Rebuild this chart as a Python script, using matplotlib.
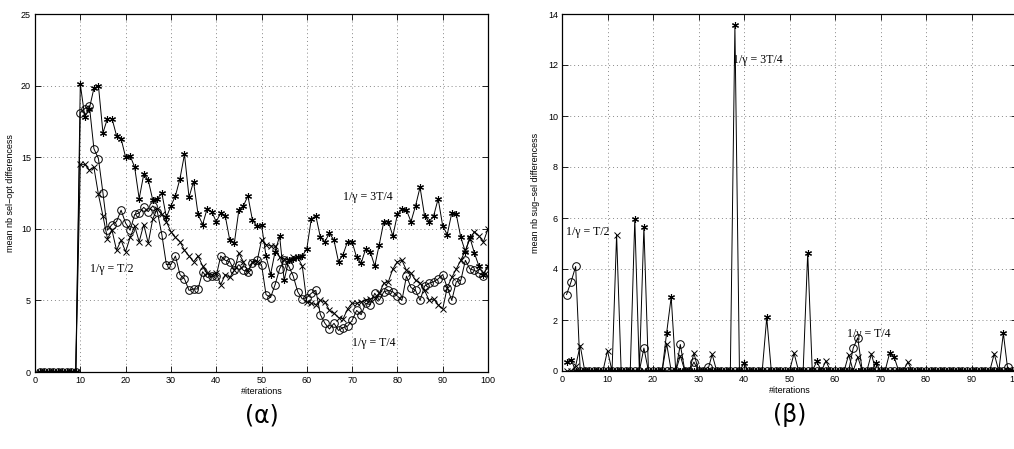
import numpy as np
import matplotlib
matplotlib.use('Agg')
import matplotlib.pyplot as plt

## Left panel (alpha): mean nb sel-opt differences, iterations 1..100
iters = np.arange(1, 101)

star_a = [0]*9 + [20.1, 17.8, 18.4, 19.8, 20.0, 16.7, 17.7, 17.7, 16.5, 16.3,
                  15.0, 15.1, 14.3, 12.1, 13.8, 13.4, 12.0, 12.1, 12.5, 10.8,
                  11.6, 12.3, 13.5, 15.2, 12.2, 13.3, 11.0, 10.3, 11.4, 11.2,
                  10.5, 11.1, 10.9, 9.2, 9.0, 11.3, 11.6, 12.3, 10.6, 10.2,
                  10.3, 8.1, 6.8, 8.4, 9.5, 6.4, 7.8, 7.9, 8.0, 8.1,
                  8.6, 10.7, 10.9, 9.4, 9.1, 9.7, 9.2, 7.7, 8.2, 9.1,
                  9.1, 8.0, 7.6, 8.6, 8.4, 7.4, 8.9, 10.5, 10.5, 9.5,
                  11.0, 11.4, 11.3, 10.5, 11.6, 12.9, 10.9, 10.5, 10.9, 12.1,
                  10.2, 9.6, 11.1, 11.0, 9.4, 8.4, 9.4, 8.3, 7.4, 6.8, 7.4]

circ_a = [0]*9 + [18.1, 18.4, 18.6, 15.6, 14.9, 12.5, 9.9, 10.3, 10.5, 11.3,
                  10.4, 9.9, 11.0, 11.1, 11.5, 11.2, 11.6, 11.2, 9.6, 7.5,
                  7.5, 8.1, 6.8, 6.5, 5.7, 5.8, 5.8, 7.0, 6.6, 6.7,
                  6.7, 8.1, 7.8, 7.7, 7.1, 7.5, 7.1, 7.0, 7.6, 7.8,
                  7.5, 5.4, 5.2, 6.1, 7.2, 7.8, 7.4, 6.7, 5.6, 5.1,
                  5.2, 5.5, 5.7, 4.0, 3.4, 3.0, 3.4, 2.9, 3.1, 3.2,
                  3.6, 4.3, 4.0, 4.8, 4.7, 5.5, 5.0, 5.6, 5.7, 5.6,
                  5.3, 5.0, 6.7, 5.9, 5.7, 5.0, 6.0, 6.2, 6.3, 6.5,
                  6.8, 5.9, 5.0, 6.3, 6.4, 7.8, 7.2, 7.1, 6.9, 6.7, 7.0]

cross_a = [0]*9 + [14.5, 14.5, 14.1, 14.3, 12.4, 10.9, 9.3, 9.9, 8.5, 9.2,
                   8.4, 9.4, 10.2, 9.1, 10.3, 9.0, 10.7, 11.4, 11.0, 10.5,
                   9.8, 9.4, 9.1, 8.5, 8.1, 7.7, 8.1, 7.4, 6.9, 6.8,
                   6.9, 6.1, 6.8, 6.6, 7.1, 8.3, 7.7, 7.0, 7.7, 7.7,
                   9.2, 8.9, 8.8, 8.8, 8.0, 7.9, 7.8, 8.0, 8.0, 7.4,
                   4.9, 4.8, 4.7, 5.0, 4.9, 4.3, 4.1, 3.8, 3.7, 4.4,
                   4.8, 4.8, 4.9, 5.0, 5.1, 5.2, 5.5, 6.2, 6.3, 7.2,
                   7.7, 7.8, 7.1, 6.9, 6.4, 6.2, 5.7, 5.0, 5.1, 4.7,
                   4.4, 5.9, 6.6, 7.2, 7.8, 8.5, 9.3, 9.8, 9.5, 9.1, 10.0]

## Right panel (beta): mean nb sug-sel differences, mostly zero with spikes
star_b_at = [1, 2, 16, 18, 23, 24, 38, 40, 45, 54, 56, 69, 72, 73, 97]
star_b_val = [0.35, 0.45, 5.96, 5.65, 1.5, 2.9, 13.55, 0.3, 2.1, 4.64, 0.38, 0.33, 0.7, 0.55, 1.48]
cross_b_at = [3, 4, 10, 12, 23, 26, 29, 33, 51, 58, 63, 65, 68, 76, 95]
cross_b_val = [0.2, 1.0, 0.8, 5.35, 1.07, 0.6, 0.7, 0.65, 0.7, 0.4, 0.64, 0.55, 0.67, 0.35, 0.67]
circ_b_at = [1, 2, 3, 18, 26, 29, 32, 64, 65, 98]
circ_b_val = [3.0, 3.5, 4.1, 0.9, 1.04, 0.35, 0.15, 0.9, 1.3, 0.15]


def spikes(at, val):
    y = np.zeros(len(iters))
    y[np.array(at) - 1] = val
    return y


star_b = spikes(star_b_at, star_b_val)
cross_b = spikes(cross_b_at, cross_b_val)
circ_b = spikes(circ_b_at, circ_b_val)

tick_font = ['Liberation Sans Narrow', 'Liberation Sans', 'DejaVu Sans']
serif_font = ['Liberation Serif', 'DejaVu Serif']

fig = plt.figure(figsize=(10.14, 4.49), dpi=100)
axL = fig.add_axes([35/1014, 1-372/449, 453/1014, 358/449])
axR = fig.add_axes([562/1014, 1-371/449, 455/1014, 357/449])

ast = (6, 2, 0)  # matlab-like asterisk
for ax, s, c, x in ((axL, star_a, circ_a, cross_a), (axR, star_b, circ_b, cross_b)):
    ax.plot(iters, s, '-', color='k', lw=0.7, marker=ast, ms=5, mew=0.8)
    ax.plot(iters, c, '-', color='k', lw=0.7, marker='o', ms=5.5, mfc='none', mew=0.7)
    ax.plot(iters, x, '-', color='k', lw=0.7, marker='x', ms=4.2, mew=0.7)
    ax.set_xlim(0, 100)
    ax.set_xticks(np.arange(0, 101, 10))
    ax.grid(True, linestyle=(0, (1, 3)), color='#888888', lw=0.7)
    ax.tick_params(direction='in', top=True, right=True, length=4, width=0.6,
                   labelsize=6.5, pad=3)
    for lab in ax.get_xticklabels() + ax.get_yticklabels():
        lab.set_family(tick_font)
    for sp in ax.spines.values():
        sp.set_linewidth(0.9)
    ax.set_xlabel('#iterations', fontsize=6.5, family=tick_font, labelpad=1)

axL.set_ylim(0, 25)
axL.set_yticks(np.arange(0, 26, 5))
axL.set_ylabel('mean nb sel\u2212opt differencess', fontsize=6.5, family=tick_font, labelpad=4)
axR.set_ylim(0, 14)
axR.set_yticks(np.arange(0, 15, 2))
axR.set_ylabel('mean nb sug\u2212sel differencess', fontsize=6.5, family=tick_font, labelpad=6)

# curve annotations
axL.text(68.0, 12.2, '1/\u03b3 = 3T/4', fontsize=8.6, family=serif_font, va='center')
axL.text(12.1, 7.2, '1/\u03b3 = T/2', fontsize=8.6, family=serif_font, va='center')
axL.text(69.9, 2.0, '1/\u03b3 = T/4', fontsize=8.6, family=serif_font, va='center')
axR.text(37.6, 12.2, '1/\u03b3 = 3T/4', fontsize=8.6, family=serif_font, va='center')
axR.text(0.8, 5.45, '1/\u03b3 = T/2', fontsize=8.6, family=serif_font, va='center')
axR.text(62.7, 1.45, '1/\u03b3 = T/4', fontsize=8.6, family=serif_font, va='center')

fig.text(262/1014, 1-415/449, '(\u03b1)', fontsize=17, ha='center', va='center')
fig.text(790/1014, 1-415/449, '(\u03b2)', fontsize=17, ha='center', va='center')

fig.savefig('out.png', dpi=100)
